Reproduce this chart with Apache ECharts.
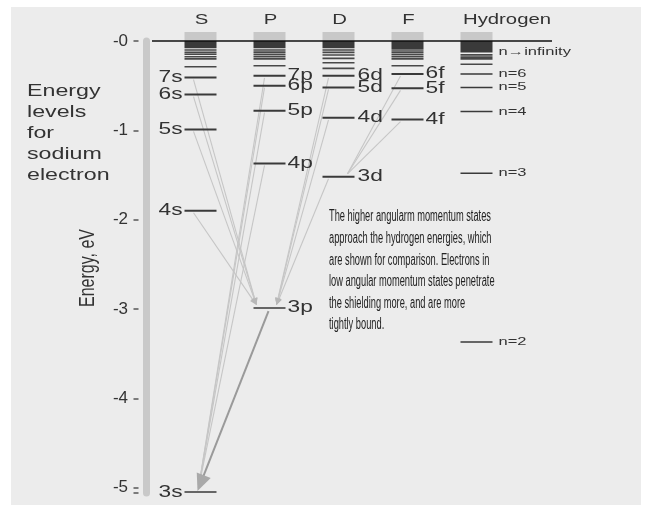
<!DOCTYPE html>
<html><head><meta charset="utf-8">
<script src="https://cdn.jsdelivr.net/npm/echarts@6/dist/echarts.min.js"></script>
<style>html,body{margin:0;padding:0;background:#fff}#c{width:646px;height:508px}</style>
</head><body><div id="c"></div>
<script>
// ---------------- data ----------------
const columns = ['S', 'P', 'D', 'F', 'Hydrogen'];
const sNames = ['3s', '4s', '5s', '6s', '7s'];
const sEnergies = [-5.05, -1.9, -0.99, -0.6, -0.41];
const pNames = ['3p', '4p', '5p', '6p', '7p'];
const pEnergies = [-2.99, -1.37, -0.78, -0.5, -0.39];
const dNames = ['3d', '4d', '5d', '6d'];
const dEnergies = [-1.52, -0.86, -0.52, -0.39];
const fNames = ['4f', '5f', '6f'];
const fEnergies = [-0.88, -0.53, -0.37];
const hNames = ['n=2', 'n=3', 'n=4', 'n=5', 'n=6'];
const hEnergies = [-3.37, -1.48, -0.79, -0.52, -0.37];
const limitLabel = 'n\u2192infinity';
const limitLabelEnergy = -0.12;
// unlabeled high-n levels crowding toward the ionization limit
const sUpper = [-0.1, -0.127, -0.149, -0.176, -0.2, -0.288];
const pUpper = [-0.1, -0.125, -0.15, -0.175, -0.2, -0.277];
const dUpper = [-0.1, -0.127, -0.157, -0.194, -0.243, -0.306];
const fUpper = [-0.1, -0.125, -0.15, -0.175, -0.2, -0.277];
const hUpper = [-0.155, -0.18, -0.2, -0.26];
const denseBandBottom = [-0.08, -0.08, -0.08, -0.09, -0.13];
const tickValues = [0, -1, -2, -3, -4, -5];
const transitions = [
  ['4s', '3p'], ['5s', '3p'], ['6s', '3p'], ['7s', '3p'],
  ['3d', '3p'], ['4d', '3p'], ['5d', '3p'], ['6d', '3p'],
  ['4p', '3s'], ['5p', '3s'], ['6p', '3s'], ['7p', '3s'],
  ['4f', '3d'], ['5f', '3d'], ['6f', '3d'],
  ['3p', '3s']
];
const titleLines = ['Energy', 'levels', 'for', 'sodium', 'electron'];
const yAxisName = 'Energy, eV';
const noteLines = [
  'The higher angularm momentum states',
  'approach the hydrogen energies, which',
  'are shown for comparison. Electrons in',
  'low angular momentum states penetrate',
  'the shielding more, and are more',
  'tightly bound.'
];

// ---------------- build tables ----------------
const groups = [
  [sNames, sEnergies], [pNames, pEnergies], [dNames, dEnergies], [fNames, fEnergies], [hNames, hEnergies]
];
const levels = [];
const levelByName = {};
groups.forEach(([names, es], col) => names.forEach((n, i) => {
  const l = { col, name: n, e: es[i] };
  levels.push(l); levelByName[n] = l;
}));
const upperGroups = [sUpper, pUpper, dUpper, fUpper, hUpper];
const upperData = [];
upperGroups.forEach((arr, col) => arr.forEach(e => upperData.push([col, e])));
const transData = transitions.map(([f, t]) => [levelByName[f].col, levelByName[f].e, levelByName[t].col, levelByName[t].e]);

const FONT = "'Liberation Sans', Arial, Helvetica, sans-serif";
const HALF = 16;
const colLabel = [
  { side: 'left', gap: 2, size: 16, sx: 1.42 },
  { side: 'right', gap: 2, size: 16, sx: 1.42 },
  { side: 'right', gap: 3, size: 16, sx: 1.42 },
  { side: 'right', gap: 2, size: 16, sx: 1.42 },
  { side: 'right', gap: 6, size: 11, sx: 1.5 }
];

function txt(x, y, text, size, sx, align, color) {
  return { type: 'text', x, y, scaleX: sx, style: { text, x: 0, y: 0, fill: color || '#333', font: size + 'px ' + FONT, textAlign: align, textVerticalAlign: 'middle' } };
}

function transShape(fromName, toName) {
  if (fromName === '3p') return { sx: -1, sy: 3, ex: -3, ey: -1, head: 'big', color: '#9a9a9a', w: 2 };
  const k = fromName.slice(-1);
  if (k === 's') return { sx: -7, sy: 2, ex: -13, ey: -3, head: 'small', color: '#c6c6c6', w: 1.1 };
  if (k === 'd') return { sx: -10, sy: 2, ex: 7, ey: -3, head: 'small', color: '#c6c6c6', w: 1.1 };
  if (k === 'p') return { sx: -5, sy: 2, ex: -2, ey: -4, head: 'none', color: '#c6c6c6', w: 1.1 };
  return { sx: -7, sy: 2, ex: 9, ey: -3, head: 'none', color: '#c6c6c6', w: 1.1 };
}

const option = {
  animation: false,
  backgroundColor: '#ffffff',
  grid: { left: 166, top: 41, width: 345, height: 452, containLabel: false, outerBoundsMode: 'none' },
  xAxis: { type: 'value', min: -0.5, max: 4.5, show: false },
  yAxis: [
    {
      type: 'value', min: -5.06, max: 0, position: 'left', offset: 27.5,
      axisLine: { show: false, onZero: false },
      axisTick: { show: true, length: 5, lineStyle: { color: '#555', width: 1.5 } },
      axisLabel: {
        show: true, margin: 10.5, color: '#333', fontSize: 17, fontFamily: FONT,
        formatter: v => tickValues.includes(v) ? '-' + Math.abs(v) : ''
      },
      splitLine: { show: false }
    },
    {
      type: 'value', min: -5.06, max: 0, position: 'left', offset: 19.5,
      axisLine: { show: true, onZero: false, lineStyle: { color: '#c9c9c9', width: 7 } },
      axisTick: { show: false }, axisLabel: { show: false }, splitLine: { show: false }
    }
  ],
  graphic: {
    elements: [
      { type: 'rect', z: -10, shape: { x: 11, y: 7, width: 630, height: 498 }, style: { fill: '#ececec' } },
      { type: 'text', z: 10, x: 27, y: 81.6, scaleX: 1.45,
        style: { text: titleLines.join('\n'), fill: '#333', font: '16px ' + FONT, lineHeight: 20.8, textAlign: 'left', textVerticalAlign: 'top' } },
      { type: 'text', z: 10, x: 88, y: 268, rotation: Math.PI / 2, scaleY: 1.4,
        style: { text: yAxisName, fill: '#333', font: '16px ' + FONT, textAlign: 'center', textVerticalAlign: 'middle' } },
      { type: 'text', z: 10, x: 329, y: 206.2, scaleX: 0.58,
        style: { text: noteLines.join('\n'), fill: '#222', font: '16px ' + FONT, lineHeight: 21.6, textAlign: 'left', textVerticalAlign: 'top' } }
    ]
  },
  series: [
    { // header boxes and dense continuum band
      type: 'custom', silent: true, yAxisIndex: 0,
      data: denseBandBottom.map((b, i) => [i, b]),
      renderItem(params, api) {
        const p0 = api.coord([api.value(0), 0]);
        const p1 = api.coord([api.value(0), api.value(1)]);
        const name = columns[params.dataIndex];
        const wide = name.length > 2;
        return { type: 'group', children: [
          { type: 'rect', shape: { x: p0[0] - HALF, y: p0[1] - 9, width: 2 * HALF, height: 9 }, style: { fill: '#c8c8c8' } },
          { type: 'rect', shape: { x: p0[0] - HALF, y: p0[1], width: 2 * HALF, height: p1[1] - p0[1] }, style: { fill: '#3a3a3a' } },
          txt(wide ? p0[0] - 13.5 : p0[0] + 1, p0[1] - 21, name, 14, 1.45, wide ? 'left' : 'center')
        ] };
      }
    },
    { // crowded unlabeled levels
      type: 'custom', silent: true, yAxisIndex: 0,
      data: upperData,
      renderItem(params, api) {
        const p = api.coord([api.value(0), api.value(1)]);
        return { type: 'line', shape: { x1: p[0] - HALF, y1: p[1], x2: p[0] + HALF, y2: p[1] }, style: { stroke: '#484848', lineWidth: 1.6 } };
      }
    },
    { // transitions
      type: 'custom', silent: true, yAxisIndex: 0,
      data: transData,
      renderItem(params, api) {
        const [fName, tName] = transitions[params.dataIndex];
        const s = transShape(fName, tName);
        const a = api.coord([api.value(0), api.value(1)]);
        const b = api.coord([api.value(2), api.value(3)]);
        const x1 = a[0] + s.sx, y1 = a[1] + s.sy, x2 = b[0] + s.ex, y2 = b[1] + s.ey;
        const children = [];
        const dx = x2 - x1, dy = y2 - y1, len = Math.hypot(dx, dy);
        const ux = dx / len, uy = dy / len;
        let L = 0, W = 0, hc = '#b8b8b8';
        if (s.head === 'small') { L = 7; W = 3; }
        if (s.head === 'big') { L = 17; W = 7.5; hc = '#a9a9a9'; }
        children.push({ type: 'line', shape: { x1, y1, x2: x2 - ux * L * 0.6, y2: y2 - uy * L * 0.6 }, style: { stroke: s.color, lineWidth: s.w } });
        if (L) {
          const bx = x2 - ux * L, by = y2 - uy * L;
          children.push({ type: 'polygon', shape: { points: [[x2, y2], [bx - uy * W, by + ux * W], [bx + uy * W, by - ux * W]] }, style: { fill: hc } });
        }
        return { type: 'group', children };
      }
    },
    { // labeled levels
      type: 'custom', silent: true, yAxisIndex: 0,
      data: levels.map(l => [l.col, l.e]),
      renderItem(params, api) {
        const l = levels[params.dataIndex];
        const p = api.coord([api.value(0), api.value(1)]);
        const st = colLabel[l.col];
        const low = (l.name === '3s' || l.name === '3p');
        const children = [
          { type: 'line', shape: { x1: p[0] - HALF, y1: p[1], x2: p[0] + HALF, y2: p[1] }, style: { stroke: low ? '#666' : '#3a3a3a', lineWidth: l.col === 4 ? 1.6 : 2 } }
        ];
        if (st.side === 'left') children.push(txt(p[0] - HALF - st.gap, p[1], l.name, st.size, st.sx, 'right'));
        else children.push(txt(p[0] + HALF + st.gap, p[1], l.name, st.size, st.sx, 'left'));
        return { type: 'group', children };
      }
    },
    { // ionization limit line and its label
      type: 'custom', silent: true, yAxisIndex: 0,
      data: [[4, limitLabelEnergy]],
      renderItem(params, api) {
        const z0 = api.coord([-0.5, 0]);
        const z1 = api.coord([4.5, 0]);
        const p = api.coord([api.value(0), api.value(1)]);
        return { type: 'group', children: [
          { type: 'line', shape: { x1: z0[0] - 14, y1: z0[1], x2: z1[0] + 41, y2: z1[1] }, style: { stroke: '#111', lineWidth: 1.5 } },
          txt(p[0] + HALF + 6, p[1], limitLabel, 11, 1.5, 'left')
        ] };
      }
    }
  ]
};
const chart = echarts.init(document.getElementById('c'), null, { renderer: 'canvas' });
chart.setOption(option);
</script></body></html>
